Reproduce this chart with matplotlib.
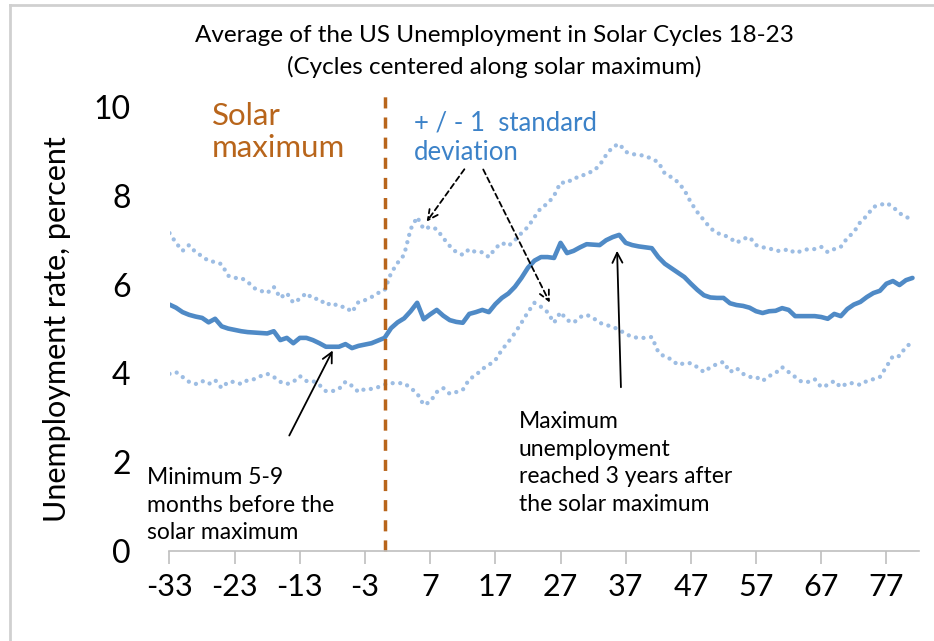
import matplotlib
matplotlib.use('Agg')
import matplotlib.pyplot as plt
from matplotlib.lines import Line2D

plt.rcParams['font.family'] = ['Lato', 'DejaVu Sans']
plt.rcParams['axes.unicode_minus'] = False

# months relative to solar maximum
months = list(range(-33, 82))

# average unemployment rate, percent
avg_rate = [5.55, 5.48, 5.38, 5.32, 5.28, 5.25, 5.15, 5.23, 5.06, 5.01,
            4.98, 4.95, 4.93, 4.92, 4.91, 4.90, 4.95, 4.75, 4.80, 4.68,
            4.80, 4.80, 4.75, 4.68, 4.60, 4.60, 4.60, 4.66, 4.57, 4.62,
            4.65, 4.68, 4.74, 4.80, 5.02, 5.15, 5.24, 5.40, 5.59, 5.22,
            5.33, 5.43, 5.30, 5.20, 5.16, 5.14, 5.34, 5.38, 5.43, 5.38,
            5.56, 5.70, 5.80, 5.95, 6.15, 6.38, 6.54, 6.62, 6.62, 6.60,
            6.94, 6.71, 6.76, 6.84, 6.91, 6.90, 6.89, 7.00, 7.07, 7.12,
            6.94, 6.89, 6.86, 6.84, 6.82, 6.62, 6.47, 6.37, 6.27, 6.17,
            6.02, 5.88, 5.76, 5.71, 5.70, 5.70, 5.58, 5.54, 5.52, 5.48,
            5.40, 5.36, 5.40, 5.41, 5.47, 5.43, 5.29, 5.29, 5.29, 5.29,
            5.27, 5.23, 5.34, 5.29, 5.45, 5.55, 5.61, 5.72, 5.81, 5.86,
            6.02, 6.08, 5.99, 6.10, 6.15]

# +1 standard deviation
upper_sd = [7.16, 6.94, 6.76, 6.89, 6.73, 6.64, 6.53, 6.51, 6.46, 6.20,
            6.15, 6.15, 6.06, 5.92, 5.86, 5.81, 5.95, 5.70, 5.81, 5.59,
            5.68, 5.81, 5.68, 5.68, 5.54, 5.59, 5.50, 5.50, 5.38, 5.61,
            5.65, 5.72, 5.81, 5.87, 6.26, 6.49, 6.67, 7.25, 7.52, 7.25,
            7.30, 7.25, 7.05, 6.87, 6.73, 6.67, 6.80, 6.73, 6.73, 6.62,
            6.82, 6.94, 6.87, 7.00, 7.16, 7.30, 7.52, 7.73, 7.82, 8.00,
            8.30, 8.29, 8.40, 8.42, 8.51, 8.55, 8.69, 8.92, 9.10, 9.17,
            8.99, 8.94, 8.92, 8.90, 8.83, 8.76, 8.50, 8.42, 8.31, 8.13,
            7.85, 7.63, 7.45, 7.27, 7.16, 7.12, 7.05, 6.94, 7.03, 7.07,
            6.89, 6.84, 6.82, 6.76, 6.76, 6.80, 6.71, 6.76, 6.80, 6.80,
            6.85, 6.73, 6.80, 6.85, 7.05, 7.18, 7.41, 7.55, 7.75, 7.79,
            7.84, 7.75, 7.61, 7.52, 7.48]

# -1 standard deviation
lower_sd = [3.99, 4.03, 3.92, 3.81, 3.76, 3.83, 3.76, 3.85, 3.67, 3.81,
            3.81, 3.76, 3.85, 3.87, 3.94, 3.99, 3.92, 3.81, 3.76, 3.81,
            3.94, 3.83, 3.83, 3.74, 3.60, 3.60, 3.65, 3.81, 3.72, 3.58,
            3.65, 3.65, 3.69, 3.75, 3.78, 3.78, 3.78, 3.67, 3.55, 3.29,
            3.36, 3.58, 3.67, 3.54, 3.58, 3.63, 3.87, 3.96, 4.10, 4.19,
            4.30, 4.53, 4.71, 4.91, 5.14, 5.38, 5.59, 5.50, 5.38, 5.14,
            5.38, 5.20, 5.14, 5.27, 5.32, 5.25, 5.14, 5.09, 5.05, 4.98,
            4.89, 4.82, 4.80, 4.80, 4.82, 4.48, 4.37, 4.32, 4.19, 4.23,
            4.23, 4.14, 4.03, 4.14, 4.21, 4.26, 4.03, 4.12, 3.99, 3.92,
            3.92, 3.83, 3.94, 4.01, 4.14, 4.03, 3.92, 3.81, 3.81, 3.87,
            3.69, 3.74, 3.83, 3.69, 3.78, 3.78, 3.74, 3.83, 3.87, 3.92,
            4.15, 4.39, 4.39, 4.60, 4.70]

x_ticks = list(range(-33, 78, 10))
y_ticks = [0, 2, 4, 6, 8, 10]

W, H = 934, 641
fig = plt.figure(figsize=(W / 100, H / 100), dpi=100)


def px(x, y):
    # pixel position (from top-left) -> figure fraction
    return (x / W, 1 - y / H)


# grey chart border, only the top and left edges are inside the picture
fig.add_artist(Line2D([10 / W, 10 / W], [0, 1 - 5 / H], transform=fig.transFigure,
                      color='#d0d0d0', linewidth=2))
fig.add_artist(Line2D([10 / W, 1], [1 - 5 / H, 1 - 5 / H], transform=fig.transFigure,
                      color='#d0d0d0', linewidth=2))

ax = fig.add_axes([169.5 / W, 1 - 551 / H, (919 - 169.5) / W, (551 - 107) / H])

ax.plot(months, upper_sd, color='#9dbde3', linewidth=3.1,
        linestyle=(0, (0.01, 1.75)), dash_capstyle='round')
ax.plot(months, lower_sd, color='#9dbde3', linewidth=3.1,
        linestyle=(0, (0.01, 1.75)), dash_capstyle='round')
ax.plot(months, avg_rate, color='#4f8ac6', linewidth=3.3, solid_capstyle='round')

# solar maximum marker
ax.plot([0, 0], [0, 10.25], color='#b8651b', linewidth=2.5,
        linestyle=(0, (3.2, 2.6)), clip_on=False)

ax.set_xlim(-33, 82)
ax.set_ylim(0, 10)
ax.set_xticks(x_ticks)
ax.set_yticks(y_ticks)
ax.tick_params(axis='x', direction='out', length=9, width=1.2, color='#bfbfbf',
               labelsize=22, pad=7)
ax.tick_params(axis='y', length=0, labelsize=23, pad=28)
for s in ['top', 'right', 'left']:
    ax.spines[s].set_visible(False)
ax.spines['bottom'].set_color('#bfbfbf')
ax.spines['bottom'].set_linewidth(1.2)

ax.set_ylabel('Unemployment rate, percent', fontsize=22, labelpad=16)

fig.text(*px(494, 35), 'Average of the US Unemployment in Solar Cycles 18-23',
         ha='center', va='center', fontsize=17.5)
fig.text(*px(494, 67), '(Cycles centered along solar maximum)',
         ha='center', va='center', fontsize=17.5)

fig.text(*px(212, 132), 'Solar\nmaximum', ha='left', va='center', fontsize=22.5,
         color='#b8651b', linespacing=1.2)
fig.text(*px(414, 138), '+ / - 1  standard\ndeviation', ha='left', va='center',
         fontsize=18.5, color='#3c82c8', linespacing=1.25)

fig.text(*px(147, 505), 'Minimum 5-9\nmonths before the\nsolar maximum',
         ha='left', va='center', fontsize=16.5, linespacing=1.4)
fig.text(*px(519, 463), 'Maximum\nunemployment\nreached 3 years after\nthe solar maximum',
         ha='left', va='center', fontsize=16.5, linespacing=1.4)

arrow_solid = dict(arrowstyle='->', color='black', linewidth=1.3, mutation_scale=18)
arrow_dash = dict(arrowstyle='->', color='black', linewidth=1.3, mutation_scale=18,
                  linestyle=(0, (3, 2)))
ax.annotate('', xy=px(334, 348), xycoords='figure fraction',
            xytext=px(288, 438), textcoords='figure fraction', arrowprops=arrow_solid)
ax.annotate('', xy=px(617, 248), xycoords='figure fraction',
            xytext=px(621, 390), textcoords='figure fraction', arrowprops=arrow_solid)
ax.annotate('', xy=px(425, 224), xycoords='figure fraction',
            xytext=px(466, 167), textcoords='figure fraction', arrowprops=arrow_dash)
ax.annotate('', xy=px(551, 305), xycoords='figure fraction',
            xytext=px(482, 167), textcoords='figure fraction', arrowprops=arrow_dash)

fig.savefig('out.png', dpi=100)
